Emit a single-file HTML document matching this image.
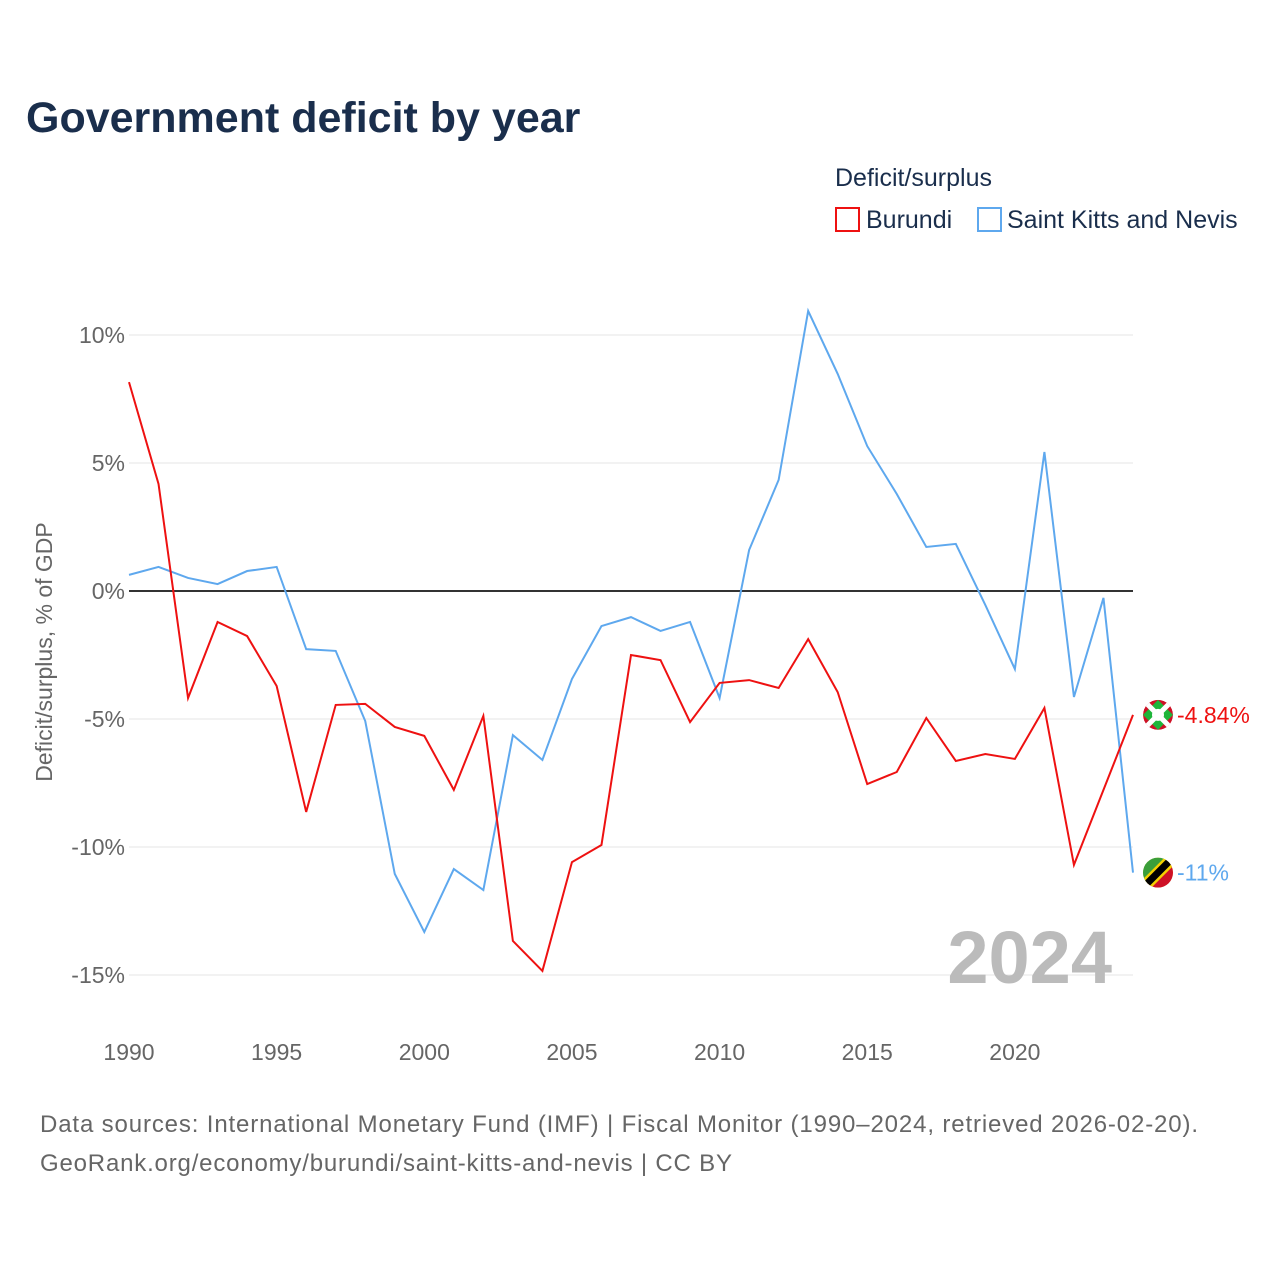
<!DOCTYPE html>
<html><head><meta charset="utf-8"><style>
body{margin:0;background:#fff;font-family:"Liberation Sans",sans-serif}
</style></head><body>
<svg width="1280" height="1280" xmlns="http://www.w3.org/2000/svg" font-family="Liberation Sans, sans-serif">
<defs id="defs"></defs>
<text x="26" y="132" font-size="43" font-weight="bold" fill="#1a2e4c">Government deficit by year</text>
<text x="835" y="186" font-size="25" fill="#1a2e4c">Deficit/surplus</text>
<g><rect x="836" y="208" width="23" height="23" fill="none" stroke="#ee1111" stroke-width="2"/><text x="866" y="228" font-size="25" fill="#1a2e4c">Burundi</text></g>
<g><rect x="978" y="208" width="23" height="23" fill="none" stroke="#5ea8ee" stroke-width="2"/><text x="1007" y="228" font-size="25" fill="#1a2e4c">Saint Kitts and Nevis</text></g>
<g id="grid"></g><g id="series"></g>
<text x="40" y="640" font-size="23" fill="#666" transform="rotate(-90 52 640)" text-anchor="middle">Deficit/surplus, % of GDP</text>
<text x="1112" y="983" font-size="74" font-weight="bold" fill="#bbb" text-anchor="end">2024</text>
<text x="40" y="1132" font-size="24" fill="#666" textLength="1158">Data sources: International Monetary Fund (IMF) | Fiscal Monitor (1990–2024, retrieved 2026-02-20).</text>
<text x="40" y="1171" font-size="24" fill="#666" textLength="692">GeoRank.org/economy/burundi/saint-kitts-and-nevis | CC BY</text>
</svg>
<script>
const years=[];for(let y=1990;y<=2024;y++)years.push(y);
const burundi=[8.16,4.18,-4.18,-1.21,-1.76,-3.71,-8.63,-4.45,-4.41,-5.31,-5.66,-7.77,-4.88,-13.67,-14.84,-10.59,-9.92,-2.5,-2.7,-5.12,-3.59,-3.48,-3.79,-1.88,-3.95,-7.54,-7.07,-4.96,-6.64,-6.37,-6.56,-4.57,-10.7,-7.77,-4.84];
const skn=[0.63,0.94,0.51,0.27,0.78,0.94,-2.27,-2.34,-5.08,-11.05,-13.32,-10.86,-11.68,-5.63,-6.6,-3.44,-1.37,-1.02,-1.56,-1.21,-4.18,1.6,4.34,10.94,8.48,5.66,3.79,1.72,1.84,-0.55,-3.05,5.43,-4.14,-0.27,-11.0];
const yTicks=[10,5,0,-5,-10,-15];
const yTickLabels=["10%","5%","0%","-5%","-10%","-15%"];
const xTicks=[1990,1995,2000,2005,2010,2015,2020];
const NS="http://www.w3.org/2000/svg";
const X=y=>129+(y-1990)*(1004/34);
const Y=v=>591-v*25.6;
function mk(t,a,p){const e=document.createElementNS(NS,t);for(const k in a)e.setAttribute(k,a[k]);p.appendChild(e);return e;}
const g=document.getElementById('grid'),s=document.getElementById('series'),defs=document.getElementById('defs');
yTicks.forEach((v,i)=>{
 const l=mk('line',{x1:129,x2:1133,y1:Y(v),y2:Y(v),stroke:v===0?'#333':'#e6e6e6','stroke-width':v===0?2:1},g);
 
 
 const t=mk('text',{x:125,y:Y(v)+8,'font-size':23,fill:'#666','text-anchor':'end'},g);t.textContent=yTickLabels[i];
 
 
});
xTicks.forEach(v=>{
 const t=mk('text',{x:X(v),y:1060,'font-size':23,fill:'#666','text-anchor':'middle'},g);t.textContent=v;
 
 
});
function line(d,c,n){
 const p=mk('polyline',{points:d.map((v,i)=>X(years[i])+','+Y(v)).join(' '),fill:'none',stroke:c,'stroke-width':2},s);
 
 
}
line(skn,'#5ea8ee','line-saint-kitts');
line(burundi,'#ee1111','line-burundi');
function endLabel(d,c,txt,n,flag,id){
 const v=d[d.length-1],x=1158,y=Y(v);
 const cp=mk('clipPath',{id:id},defs);mk('circle',{cx:x,cy:y,r:15},cp);
 const gg=mk('g',{},s);
 
 
 const f=mk('g',{'clip-path':'url(#'+id+')'},gg);
 mk('circle',{cx:x,cy:y,r:15,fill:flag[0]},f);
 if(flag[1]){mk('path',{d:`M${x-15} ${y+15}L${x-15} ${y-15}L${x+15} ${y-15}Z`,fill:'#3a9e3a'},f);mk('path',{d:`M${x+15} ${y-15}L${x+15} ${y+15}L${x-15} ${y+15}Z`,fill:'#ce1126'},f);mk('path',{d:`M${x-16} ${y+16}L${x+16} ${y-16}`,stroke:'#f4d000','stroke-width':12},f);mk('path',{d:`M${x-16} ${y+16}L${x+16} ${y-16}`,stroke:'#000','stroke-width':7},f);}
 else{mk('path',{d:`M${x-15} ${y}L${x} ${y-15}L${x+15} ${y}L${x} ${y+15}Z`,fill:'#1eb53a'},f);mk('path',{d:`M${x-16} ${y-16}L${x+16} ${y+16}M${x+16} ${y-16}L${x-16} ${y+16}`,stroke:'#fff','stroke-width':5},f);mk('circle',{cx:x,cy:y,r:6,fill:'#fff'},f);}
 const t=mk('text',{x:1177,y:y+8,'font-size':23,fill:c},gg);t.textContent=txt;
}
endLabel(burundi,'#ee1111','-4.84%','end-label-burundi',['#ce1126',0],'clipB');
endLabel(skn,'#5ea8ee','-11%','end-label-saint-kitts',['#f4d000',1],'clipS');
</script>
</body></html>
